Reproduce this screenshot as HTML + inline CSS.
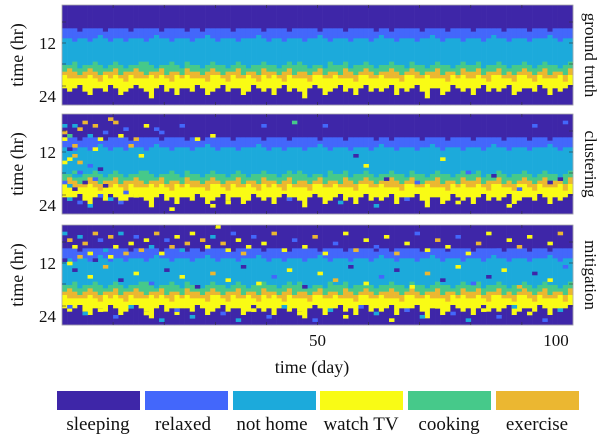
<!DOCTYPE html>
<html><head><meta charset="utf-8"><style>
body{margin:0;background:#fff;width:607px;height:438px;overflow:hidden;font-family:"Liberation Serif",serif}
svg{display:block}
</style></head><body>
<svg id="chart" width="607" height="438" xmlns="http://www.w3.org/2000/svg" font-family="'Liberation Serif', serif">
<g id="panels"></g>
<g id="axes"></g>
<g id="legend"></g>
</svg>
<script>
const classNames=["sleeping","relaxed","not home","watch TV","cooking","exercise"];
const classColors=["#3e26a8","#4367fb","#1caadb","#f9fb15","#46c98a","#ebb731"];
const panelTitles=["ground truth","clustering","mitigation"];
const wake=[7,7,7,8,7,7,7,7,8,7,7,7,7,8,7,7,7,7,7,8,7,7,7,7,8,7,7,8,7,7,7,7,7,8,7,7,7,7,7,8,7,7,7,7,8,7,7,7,7,7,8,7,7,7,7,8,7,7,7,7,7,8,7,7,8,7,7,7,7,7,8,7,7,7,7,8,7,7,7,7,8,7,7,7,7,7,8,7,7,7,7,8,7,7,7,8,7,7,7,7];
const leave=[10,10,11,10,10,11,10,9,10,11,10,10,11,10,10,10,11,10,9,10,10,11,10,10,10,11,10,10,9,10,11,10,10,10,11,10,10,10,9,10,11,10,10,11,10,10,10,11,10,10,9,10,11,10,10,10,11,10,10,10,11,10,9,10,10,11,10,10,10,11,10,10,9,10,11,10,10,10,11,10,10,10,11,10,9,10,10,11,10,10,10,11,10,10,10,9,10,11,10,10];
const cookStart=[18,18,17,19,18,18,17,18,19,18,17,18,19,18,18,17,17,18,19,18,18,17,18,19,17,18,18,19,18,17,18,18,19,18,17,18,19,18,18,17,18,18,19,18,17,18,17,18,19,18,18,19,17,18,18,17,19,18,18,17,18,19,18,18,17,18,18,19,17,18,18,19,18,17,18,18,19,18,17,18,18,17,19,18,18,17,18,19,18,18,17,18,19,18,17,18,18,19,18,17];
const exStart=[20,19,20,21,20,19,20,21,20,20,19,21,20,20,19,20,21,20,20,19,21,20,20,21,19,20,20,21,20,19,20,21,20,20,19,21,20,20,21,19,20,20,21,20,19,21,20,20,21,20,19,21,20,20,21,19,20,21,20,19,20,21,20,20,19,20,21,20,19,20,21,20,20,19,21,20,20,21,19,20,20,19,21,20,20,19,21,20,21,20,19,20,21,20,19,21,20,20,21,19];
const tvStart=[21,22,22,22,22,21,22,23,21,22,21,22,23,21,22,22,22,21,22,21,22,23,21,22,21,22,22,22,23,21,21,22,23,21,22,22,21,22,23,21,22,21,22,23,21,22,22,22,23,21,21,22,22,21,22,22,22,23,21,21,22,22,21,22,22,22,23,21,21,22,22,21,22,22,22,23,21,22,21,22,22,21,22,23,21,21,22,22,23,21,21,22,23,21,22,22,22,21,23,21];
const bedStart=[25,26,25,24,26,27,25,25,26,24,25,27,26,25,24,25,26,28,25,24,26,25,27,25,25,26,24,25,27,26,25,24,26,25,25,27,26,24,25,26,25,27,25,24,26,25,26,28,25,24,25,27,26,25,24,26,25,27,25,24,26,25,26,25,24,27,25,26,25,24,26,28,25,25,27,26,24,25,26,25,27,25,24,26,25,26,25,24,27,26,25,25,26,24,25,27,25,26,25,24];
const clusterNoise=[[1,3,2],[1,5,5],[1,7,3],[2,6,4],[3,3,2],[3,9,5],[4,4,5],[5,2,5],[5,8,1],[6,6,2],[7,3,5],[7,10,3],[8,7,3],[9,5,1],[10,1,5],[10,8,1],[11,2,5],[12,6,3],[13,4,1],[14,9,5],[15,7,5],[16,12,3],[17,3,3],[2,13,3],[4,14,5],[6,15,1],[8,16,0],[3,18,2],[5,20,0],[7,19,1],[9,21,0],[11,22,3],[13,23,1],[15,24,3],[2,25,2],[4,26,1],[6,27,2],[8,24,1],[10,25,2],[12,26,1],[19,4,1],[20,5,1],[24,3,1],[27,7,3],[30,6,3],[35,9,1],[40,3,1],[46,2,4],[52,3,1],[58,12,0],[60,15,3],[64,19,0],[70,20,1],[75,13,3],[80,17,1],[85,18,0],[90,22,1],[93,3,1],[96,20,0],[98,19,0],[22,28,3],[30,27,3],[33,26,3],[45,25,1],[55,26,2],[62,27,2],[68,25,1],[78,26,3],[88,27,3],[99,2,1],[1,20,1],[2,21,2],[3,22,0],[4,17,1],[1,14,3],[2,10,0],[3,12,5]];
const mitigNoise=[[1,2,2],[2,4,5],[3,6,3],[4,3,2],[5,5,5],[6,8,3],[7,2,5],[8,4,1],[9,7,2],[10,3,5],[11,6,3],[12,2,2],[13,8,5],[14,5,3],[15,3,1],[16,7,5],[17,4,3],[18,6,2],[19,2,5],[20,8,3],[21,4,1],[22,6,5],[23,3,3],[24,7,2],[25,5,5],[26,2,3],[27,8,1],[28,4,5],[29,6,3],[30,3,2],[31,0,3],[32,5,5],[33,7,3],[34,2,1],[35,4,3],[36,8,5],[37,6,3],[38,3,1],[40,5,3],[42,2,5],[44,7,3],[46,4,1],[48,6,3],[50,3,5],[52,8,3],[54,5,1],[56,2,3],[58,7,5],[60,4,3],[62,6,1],[64,3,3],[66,8,5],[68,5,3],[70,2,1],[72,7,3],[74,4,5],[76,6,3],[78,3,1],[80,8,3],[82,5,5],[84,2,3],[86,7,1],[88,4,3],[90,6,5],[92,3,3],[94,8,1],[96,5,3],[98,2,5],[3,13,0],[6,15,3],[9,12,5],[12,16,0],[15,14,3],[18,17,1],[21,13,0],[24,15,3],[27,18,0],[30,14,5],[33,16,3],[36,12,0],[39,17,3],[42,15,1],[45,13,3],[48,18,0],[51,14,3],[54,16,5],[57,12,0],[60,17,3],[63,15,1],[66,13,0],[69,18,3],[72,14,5],[75,16,0],[78,12,3],[81,17,1],[84,15,0],[87,13,3],[90,18,5],[93,14,0],[96,16,3],[99,12,1],[2,24,1],[5,26,2],[8,25,3],[11,27,1],[14,24,2],[17,26,3],[20,28,2],[23,25,1],[26,27,2],[29,24,3],[32,26,1],[35,28,2],[38,25,3],[41,27,1],[44,24,2],[47,26,3],[50,28,1],[53,25,2],[56,27,3],[59,24,1],[62,26,2],[65,28,3],[68,25,1],[71,27,2],[74,24,3],[77,26,1],[80,28,2],[83,25,3],[86,27,1],[89,24,2],[92,26,3],[95,28,1],[98,25,2],[1,10,0],[2,11,3],[4,9,5],[7,10,0],[10,9,3]];
const xTicks=[50,100];
const yTickLabels=["12","24"];

const NS="http://www.w3.org/2000/svg";
const X0=62,X1=573,NDAYS=100,NROWS=30;
const panelTops=[5,114,225],PH=100;
const xScale=d=>X0+(d/NDAYS)*(X1-X0);
const rowScale=(top,r)=>top+(r/NROWS)*PH;
function mk(tag,attrs,parent){const e=document.createElementNS(NS,tag);for(const k in attrs)e.setAttribute(k,attrs[k]);parent.appendChild(e);return e;}
const panelsG=document.getElementById('panels');
const axesG=document.getElementById('axes');
const legendG=document.getElementById('legend');
const noiseSets=[[],clusterNoise,mitigNoise];
panelTops.forEach((top,p)=>{
  const g=mk('g',{},panelsG);
  
  
  const n=Math.min(NDAYS,wake.length,leave.length,cookStart.length,exStart.length,tvStart.length,bedStart.length);
  for(let d=0;d<n;d++){
    let w=wake[d],l=Math.max(leave[d],w),c=Math.max(cookStart[d],l),e=Math.max(exStart[d],c),t=Math.max(tvStart[d],e),b=Math.max(bedStart[d],t);
    const segs=[[0,w,0],[w,l,1],[l,c,2],[c,e,4],[e,t,5],[t,b,3],[b,NROWS,0]];
    segs.forEach(s=>{
      if(s[1]<=s[0])return;
      const r=mk('rect',{x:xScale(d).toFixed(2),y:rowScale(top,s[0]).toFixed(2),width:(xScale(d+1)-xScale(d)+0.3).toFixed(2),height:(rowScale(top,s[1])-rowScale(top,s[0])+0.3).toFixed(2),fill:classColors[s[2]]},g);
      
      
    });
  }
  noiseSets[p].forEach(nz=>{
    const d=nz[0]-1,rr=nz[1];
    if(d<0||d>=NDAYS)return;
    const r=mk('rect',{x:xScale(d).toFixed(2),y:rowScale(top,rr).toFixed(2),width:(xScale(d+1)-xScale(d)+0.3).toFixed(2),height:(rowScale(top,rr+1)-rowScale(top,rr)+0.3).toFixed(2),fill:classColors[nz[2]]},g);
    
    
  });
  const fr=mk('rect',{x:X0,y:top,width:X1-X0,height:PH,fill:'none',stroke:'#aaa','stroke-width':0.8},axesG);
  
  
  [17,38,59,81].forEach(off=>{
    mk('line',{x1:X0,x2:X0+4,y1:top+off,y2:top+off,stroke:'#333','stroke-width':0.6},axesG);
    mk('line',{x1:X1-4,x2:X1,y1:top+off,y2:top+off,stroke:'#333','stroke-width':0.6},axesG);
  });
  for(let d=10;d<NDAYS;d+=10){
    mk('line',{x1:xScale(d),x2:xScale(d),y1:top,y2:top+3,stroke:'#333','stroke-width':0.6},axesG);
    mk('line',{x1:xScale(d),x2:xScale(d),y1:top+PH-3,y2:top+PH,stroke:'#333','stroke-width':0.6},axesG);
  }
  [[38,yTickLabels[0]],[91,yTickLabels[1]]].forEach(tl=>{
    const t=mk('text',{x:56,y:top+tl[0]+6,'text-anchor':'end','font-size':17,fill:'#111'},axesG);
    t.textContent=tl[1];
    
    
  });
  const yl=mk('text',{transform:`translate(23,${top+PH/2}) rotate(-90)`,'text-anchor':'middle','font-size':18,fill:'#111'},axesG);
  yl.textContent='time (hr)';
  
  
  const pt=mk('text',{transform:`translate(585,${top+PH/2}) rotate(90)`,'text-anchor':'middle','font-size':17,fill:'#111'},axesG);
  pt.textContent=panelTitles[p];
  
  
});
xTicks.forEach(v=>{
  const t=mk('text',{x:v===100?556:xScale(v),y:346,'text-anchor':'middle','font-size':17,fill:'#111'},axesG);
  t.textContent=String(v);
  
  
});
const xt=mk('text',{x:312,y:373,'text-anchor':'middle','font-size':18,fill:'#111'},axesG);
xt.textContent='time (day)';


const legX=[57,145,233,320,408,496];
const legLabelX=[98,183,272,361,449,537];
classNames.forEach((nm,i)=>{
  const sw=mk('rect',{x:legX[i],y:391,width:83,height:19,fill:classColors[i]},legendG);
  
  
  const t=mk('text',{x:legLabelX[i],y:430,'text-anchor':'middle','font-size':19,fill:'#111'},legendG);
  t.textContent=nm;
  
  
});
</script>
</body></html>
